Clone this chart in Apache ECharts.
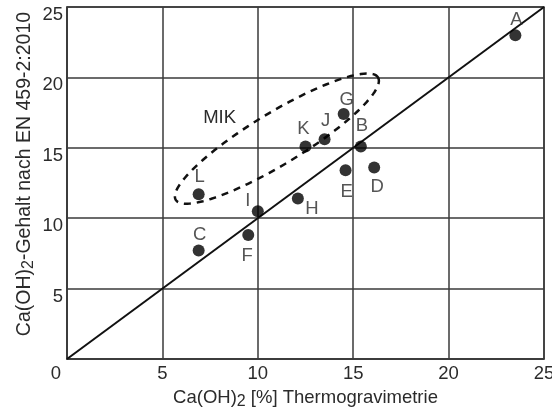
<!DOCTYPE html>
<html>
<head>
<meta charset="utf-8">
<script src="https://cdn.jsdelivr.net/npm/echarts@6/dist/echarts.min.js"></script>
<style>
    html, body { margin: 0; padding: 0; background: #fff; }
    #chart { width: 552px; height: 414px; }
</style>
</head>
<body>
<div id="chart"></div>
<script>
    // sample data
    var sampleNames = ['A', 'B', 'C', 'D', 'E', 'F', 'G', 'H', 'I', 'J', 'K', 'L'];
    var tgValues = [23.5, 15.4, 6.9, 16.1, 14.6, 9.5, 14.5, 12.1, 10.0, 13.5, 12.5, 6.9];
    var enValues = [23.0, 15.1, 7.7, 13.6, 13.4, 8.8, 17.4, 11.4, 10.5, 15.6, 15.1, 11.7];
    var axisTicks = [0, 5, 10, 15, 20, 25];
    var identityLine = [[0, 0], [25, 25]];
    // MIK region: tips of the dashed ellipse and its half width (y units)
    var mikTips = [[5.7, 11.3], [16.3, 20.0]];
    var mikHalfWidth = 2.15;
    var mikLabel = [8.0, 17.1];

    // where each letter sits relative to its dot (px)
    var labelOffset = {
        A: [1, -15], B: [1, -20], C: [1, -16], D: [3, 19], E: [1, 22], F: [-1, 21],
        G: [3, -14], H: [14, 10], I: [-10, -10], J: [1, -18], K: [-2, -17], L: [1, -17]
    };

    var fontFamily = 'Liberation Sans, Arial, sans-serif';
    var lineColor = '#3a3a3a';
    var textColor = '#2b2b2b';

    var points = sampleNames.map(function (n, i) {
        return {
            name: n,
            value: [tgValues[i], enValues[i]],
            label: { offset: labelOffset[n] }
        };
    });

    var subStyle = { fontFamily: fontFamily, fontSize: 16, color: textColor, padding: [9, 0, 0, 0] };

    var chart = echarts.init(document.getElementById('chart'));
    var option = {
        animation: false,
        backgroundColor: '#fff',
        grid: {
            left: 67, top: 7, right: 8, bottom: 55,
            outerBoundsMode: 'none',
            show: true, borderColor: lineColor, borderWidth: 1.5
        },
        xAxis: {
            type: 'value',
            min: axisTicks[0],
            max: axisTicks[axisTicks.length - 1],
            interval: 5,
            name: 'Ca(OH){sub|2} [%] Thermogravimetrie',
            nameLocation: 'middle',
            nameGap: 26,
            nameTextStyle: {
                fontFamily: fontFamily, fontSize: 18.5, color: textColor,
                rich: { sub: subStyle }
            },
            axisLine: { lineStyle: { color: lineColor, width: 1.5 } },
            axisTick: { show: false },
            splitLine: { lineStyle: { color: lineColor, width: 1.5 } },
            axisLabel: {
                fontFamily: fontFamily, fontSize: 18.5, color: textColor, margin: 5,
                formatter: function (v) { return v === 0 ? '{zero|0}' : String(v); },
                rich: { zero: { fontFamily: fontFamily, fontSize: 18.5, color: textColor, padding: [0, 22, 0, 0] } }
            }
        },
        yAxis: {
            type: 'value',
            min: axisTicks[0],
            max: axisTicks[axisTicks.length - 1],
            interval: 5,
            name: 'Ca(OH){sub|2}-Gehalt nach EN 459-2:2010',
            nameLocation: 'middle',
            nameMoveOverlap: false,
            nameGap: 30,
            nameTextStyle: {
                fontFamily: fontFamily, fontSize: 19.5, color: textColor,
                padding: [0, 0, 0, 18],
                rich: { sub: subStyle }
            },
            axisLine: { lineStyle: { color: lineColor, width: 1.5 } },
            axisTick: { show: false },
            splitLine: { lineStyle: { color: lineColor, width: 1.5 } },
            axisLabel: {
                fontFamily: fontFamily, fontSize: 18.5, color: textColor, margin: 4,
                verticalAlign: 'top', lineHeight: 16,
                formatter: function (v) { return v === 0 ? '' : String(v); }
            }
        },
        series: [
            {
                type: 'line',
                data: identityLine,
                symbol: 'none',
                lineStyle: { color: '#111', width: 2 },
                z: 3
            },
            {
                type: 'custom',
                data: [0],
                z: 4,
                renderItem: function (params, api) {
                    var p1 = api.coord(mikTips[0]);
                    var p2 = api.coord(mikTips[1]);
                    var cx = (p1[0] + p2[0]) / 2, cy = (p1[1] + p2[1]) / 2;
                    var dx = p2[0] - p1[0], dy = p2[1] - p1[1];
                    var a = Math.sqrt(dx * dx + dy * dy) / 2;
                    var ang = Math.atan2(dy, dx);
                    var b = api.size([0, mikHalfWidth])[1] * Math.cos(ang);
                    var pts = [];
                    for (var k = 0; k <= 120; k++) {
                        var t = k / 120 * Math.PI * 2;
                        var ex = a * Math.cos(t), ey = b * Math.sin(t);
                        pts.push([cx + ex * Math.cos(ang) - ey * Math.sin(ang),
                                  cy + ex * Math.sin(ang) + ey * Math.cos(ang)]);
                    }
                    var lp = api.coord(mikLabel);
                    return {
                        type: 'group',
                        children: [
                            {
                                type: 'polygon',
                                shape: { points: pts },
                                style: { fill: 'none', stroke: '#111', lineWidth: 2.5, lineDash: [7, 6] }
                            },
                            {
                                type: 'text',
                                x: lp[0], y: lp[1],
                                style: {
                                    text: 'MIK', fontFamily: fontFamily, fontSize: 18.5, fill: textColor,
                                    align: 'center', verticalAlign: 'middle'
                                }
                            }
                        ]
                    };
                }
            },
            {
                type: 'scatter',
                data: points,
                symbol: 'circle',
                symbolSize: 12,
                itemStyle: { color: '#000' },
                z: 5,
                label: {
                    show: true,
                    position: 'inside',
                    formatter: '{b}',
                    fontFamily: fontFamily,
                    fontSize: 18.5,
                    color: textColor
                }
            }
        ]
    };
    chart.setOption(option);
</script>
</body>
</html>
